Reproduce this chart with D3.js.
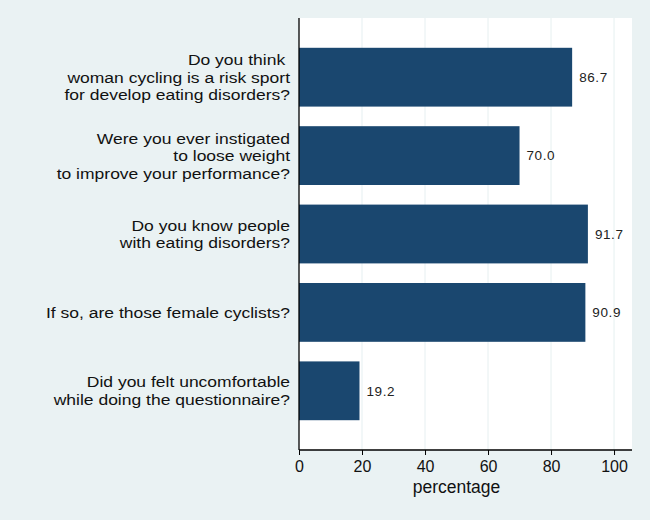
<!DOCTYPE html>
<html><head><meta charset="utf-8">
<script src="https://cdn.jsdelivr.net/npm/d3@7"></script>
<style>body{margin:0;background:#eaf2f3;}svg{display:block;}</style>
</head><body>
<script>
const categories = [
  ["Do you think ", "woman cycling is a risk sport", "for develop eating disorders?"],
  ["Were you ever instigated", "to loose weight", "to improve your performance?"],
  ["Do you know people", "with eating disorders?"],
  ["If so, are those female cyclists?"],
  ["Did you felt uncomfortable", "while doing the questionnaire?"]
];
const values = [86.7, 70.0, 91.7, 90.9, 19.2];
const valueLabels = ["86.7", "70.0", "91.7", "90.9", "19.2"];
const xTicks = [0, 20, 40, 60, 80, 100];
const xTitle = "percentage";

const W = 650, H = 520;
const FONT = "Liberation Sans, Arial, sans-serif";
const m = {left: 299, right: 18, top: 18, bottom: 70};
const svg = d3.select("body").append("svg").attr("width", W).attr("height", H);
svg.append("rect").attr("width", W).attr("height", H).attr("fill", "#eaf2f3");

const x = d3.scaleLinear().domain([0, 105.7]).range([m.left, W - m.right]);
const y = d3.scaleBand().domain(d3.range(categories.length))
  .range([m.top, H - m.bottom]).paddingInner(0.25).paddingOuter(0.38);

svg.append("rect").attr("x", m.left).attr("y", m.top)
  .attr("width", W - m.right - m.left).attr("height", H - m.bottom - m.top).attr("fill", "#ffffff");

svg.append("g").selectAll("line").data(xTicks.slice(1)).join("line")
  .attr("x1", d => x(d)).attr("x2", d => x(d))
  .attr("y1", m.top).attr("y2", H - m.bottom)
  .attr("stroke", "#eaf2f3").attr("stroke-width", 1.2);

svg.append("g").selectAll("rect").data(values).join("rect")
  .attr("x", x(0)).attr("y", (d, i) => y(i))
  .attr("width", d => x(d) - x(0)).attr("height", y.bandwidth())
  .attr("fill", "#1a476f");

svg.append("g").selectAll("text").data(values).join("text")
  .attr("x", d => x(d) + 7).attr("y", (d, i) => y(i) + y.bandwidth() / 2)
  .attr("dy", "0.35em").attr("font-family", FONT)
  .attr("font-size", 13.5).attr("letter-spacing", 0.6).attr("fill", "#222")
  .text((d, i) => valueLabels[i]);

const lab = svg.append("g").attr("font-family", FONT)
  .attr("font-size", 15.5).attr("fill", "#111").attr("text-anchor", "end")
  .attr("transform", "translate(290,0) scale(1.13,1)");
categories.forEach((lines, i) => {
  const cy = y(i) + y.bandwidth() / 2;
  const lh = 17.5;
  lines.forEach((t, j) => {
    lab.append("text").attr("x", 0)
      .attr("y", cy + (j - (lines.length - 1) / 2) * lh)
      .attr("dy", "0.35em").attr("xml:space", "preserve").text(t);
  });
});

const xAxis = d3.axisBottom(x).tickValues(xTicks).tickSize(5).tickPadding(6);
const gx = svg.append("g").attr("transform", `translate(0,${H - m.bottom})`).call(xAxis);
gx.select(".domain").attr("d", `M${m.left},0H${W - m.right}`).attr("stroke", "#000").attr("stroke-width", 1.3);
gx.selectAll(".tick line").attr("stroke", "#000");
gx.selectAll(".tick text").attr("font-family", FONT)
  .attr("font-size", 16).attr("fill", "#111");

svg.append("line").attr("x1", m.left).attr("x2", m.left)
  .attr("y1", m.top).attr("y2", H - m.bottom).attr("stroke", "#000").attr("stroke-width", 1.3);

svg.append("text").attr("x", (x(0) + x(100)) / 2).attr("y", 493)
  .attr("text-anchor", "middle").attr("font-family", FONT)
  .attr("font-size", 17.5).attr("fill", "#111").text(xTitle);
</script>
</body></html>
